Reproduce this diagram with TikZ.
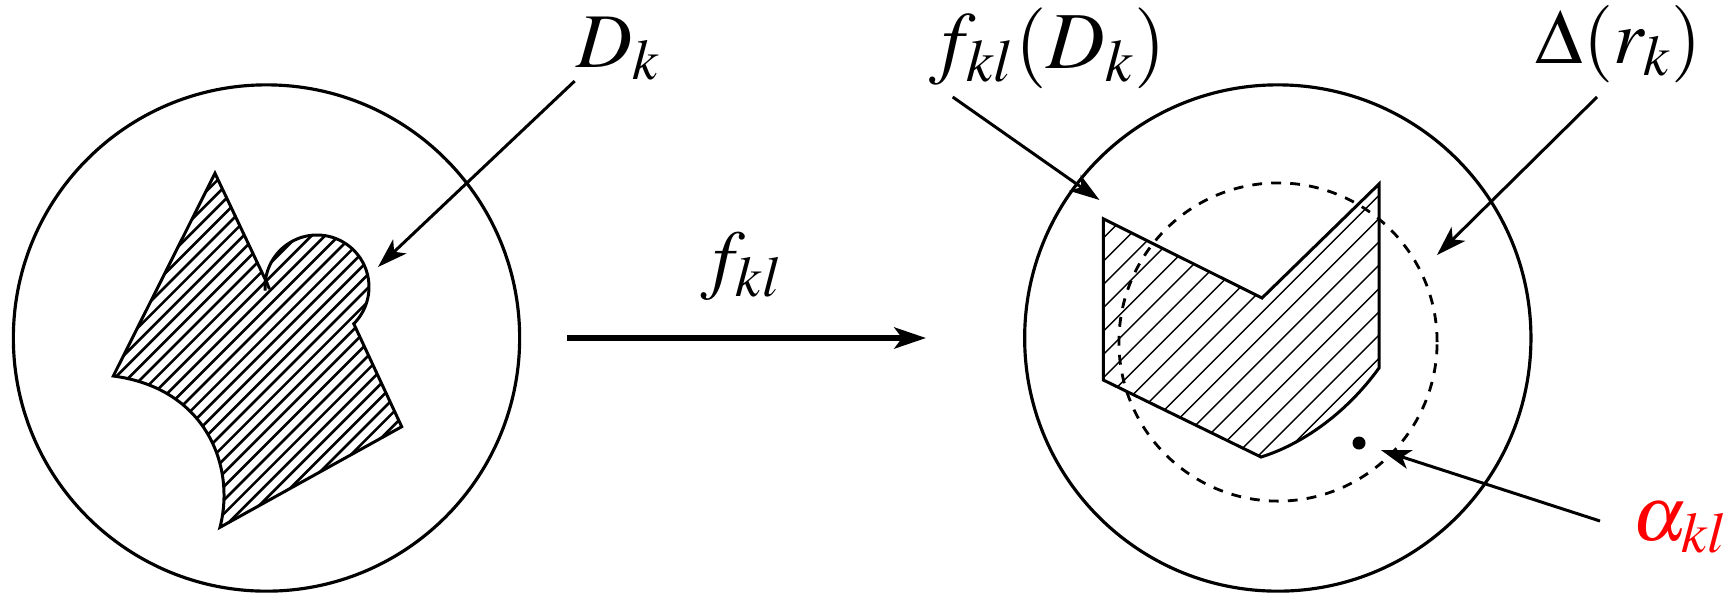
\documentclass[tikz,border=0pt]{standalone}
\usepackage{mathptmx}
\usetikzlibrary{arrows.meta}
\def\leftpath{(113.3,376) -- (215,173.3) -- (266,281) -- plot[domain=186.7:405,samples=60] ({317+52*cos(\x)},{287+52*sin(\x)}) -- (401.7,426.7) -- (220,527.3) .. controls (236,465) and (205,388) .. (113.3,376) -- cycle}
\def\rightpath{(1103.3,218.8) -- (1262,298) -- (1379,184) -- (1379,368) .. controls (1345,415) and (1300,445) .. (1261,457) -- (1103.3,380) -- cycle}
\begin{document}
\begin{tikzpicture}[x=0.01cm,y=-0.01cm,line join=round,
  ring/.style={circle,draw,inner sep=0pt,line width=0.9pt},
  shapeline/.style={line width=0.85pt,line join=miter},
  hatchA/.style={line width=0.75pt},
  hatchB/.style={line width=0.4pt},
  ptr/.style={line width=0.85pt,-{Stealth[length=8.5pt,width=5.5pt,inset=2.2pt]}},
  maparrow/.style={line width=1.5pt,-{Stealth[length=9pt,width=6pt,inset=2.2pt]}},
  lbl/.style={anchor=base west,inner sep=0pt,font=\fontsize{22}{22}\selectfont},
  disk/.style={circle,draw,inner sep=0pt,dash pattern=on 2.8pt off 2.6pt,line width=0.8pt},
  dot/.style={circle,fill,inner sep=0pt,minimum size=0.13cm}]
\useasboundingbox (0,0) rectangle (1733,593);

% outer disks
\node[ring,minimum size=5.06cm] (domL) at (266.5,338) {};
\node[ring,minimum size=5.06cm] (domR) at (1277.8,338) {};
\node[disk,minimum size=3.18cm] (delta) at (1278,342) {};

% left hatched region D_k
\begin{scope}
  \clip \leftpath;
  \foreach \i in {0,...,35} {
    \pgfmathsetmacro\c{384+13.6*\i}
    \draw[hatchA] ({\c-560},560) -- ({\c-150},150);
  }
\end{scope}
\draw[shapeline] \leftpath;
% small overshoot at the notch
\draw[shapeline] (266,281) -- (269.5,289);
\draw[shapeline] plot[domain=176:186.7,samples=6] ({317+52*cos(\x)},{287+52*sin(\x)});

% right hatched region f_kl(D_k)
\begin{scope}
  \clip \rightpath;
  \foreach \i in {1,...,19} {
    \pgfmathsetmacro\c{1318+23.3*\i}
    \draw[hatchB] ({\c-500},500) -- ({\c-160},160);
  }
\end{scope}
\draw[shapeline] \rightpath;

% point alpha_kl
\node[dot] (adot) at (1359,443) {};

% labels
\node[lbl] (lDk) at (576,67) {$D_k$};
\node[lbl,font=\fontsize{23}{23}\selectfont] (lfD) at (929,68) {$f_{kl}(D_k)$};
\node[lbl] (lDr) at (1535,63) {$\Delta(r_k)$};
\node[lbl,text=red] (lal) at (1632,540) {$\alpha_{kl}$};
\node[lbl] (lf) at (700,284) {$f_{kl}$};

% connectors
\coordinate (dkFrom) at (574.7,81);
\coordinate (dkTo) at (378,267);
\coordinate (fdFrom) at (952.7,97);
\coordinate (fdTo) at (1099.5,200);
\coordinate (drFrom) at (1597,97);
\coordinate (drTo) at (1437,255);
\coordinate (alFrom) at (1600,521);
\coordinate (mapFrom) at (567,338);
\coordinate (mapTo) at (926,338);
\draw[ptr] (dkFrom) -- (dkTo);
\draw[ptr] (fdFrom) -- (fdTo);
\draw[ptr] (drFrom) -- (drTo);
\draw[ptr,shorten >=0.16cm] (alFrom) -- (adot);
\draw[maparrow] (mapFrom) -- (mapTo);
\end{tikzpicture}
\end{document}
